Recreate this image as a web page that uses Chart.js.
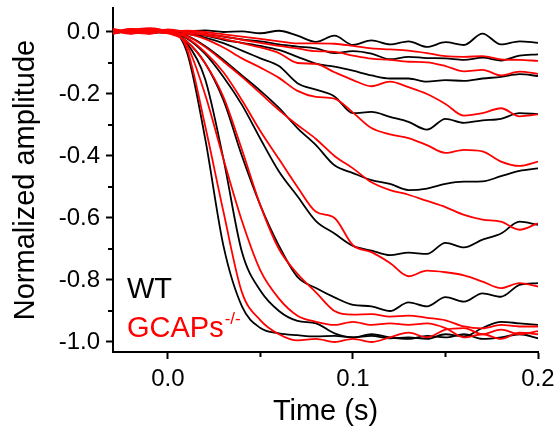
<!DOCTYPE html>
<html>
<head>
<meta charset="utf-8">
<script src="https://cdn.jsdelivr.net/npm/chart.js@4.4.1/dist/chart.umd.min.js"></script>
<style>
  html, body { margin: 0; padding: 0; background: #fff; }
  #wrap { width: 556px; height: 429px; }
</style>
</head>
<body>
<div id="wrap"><canvas id="traceChart" width="556" height="429"></canvas></div>
<script>
// time axis (s), one sample every 10 ms
const time = [-0.03, -0.02, -0.01, 0.00, 0.01, 0.02, 0.03, 0.04, 0.05, 0.06, 0.07, 0.08,
              0.09, 0.10, 0.11, 0.12, 0.13, 0.14, 0.15, 0.16, 0.17, 0.18, 0.19, 0.20];

// WT traces (black), smallest to largest flash
const wt1 = [0.004, -0.002, 0.005, 0.000, 0.002, 0.005, 0.000, 0.002, -0.004, 0.004, -0.012, -0.032,
             -0.012, -0.042, -0.027, -0.040, -0.030, -0.048, -0.033, -0.042, -0.005, -0.040, -0.030, -0.035];
const wt2 = [0.000, 0.006, -0.003, 0.002, -0.002, -0.006, -0.015, -0.024, -0.030, -0.040, -0.047, -0.053,
             -0.068, -0.062, -0.070, -0.088, -0.080, -0.084, -0.085, -0.090, -0.083, -0.092, -0.076, -0.072];
const wt3 = [-0.004, 0.002, 0.004, -0.002, -0.006, -0.012, -0.025, -0.035, -0.045, -0.058, -0.080, -0.102,
             -0.112, -0.125, -0.140, -0.150, -0.150, -0.160, -0.155, -0.158, -0.150, -0.145, -0.136, -0.142];
const wt4 = [0.006, 0.000, -0.004, 0.003, -0.006, -0.018, -0.036, -0.060, -0.085, -0.110, -0.165, -0.186,
             -0.208, -0.262, -0.258, -0.274, -0.290, -0.315, -0.280, -0.293, -0.285, -0.280, -0.262, -0.265];
const wt5 = [-0.002, 0.004, 0.000, -0.003, -0.012, -0.045, -0.090, -0.140, -0.190, -0.245, -0.310, -0.365,
             -0.430, -0.455, -0.478, -0.490, -0.510, -0.505, -0.490, -0.483, -0.482, -0.465, -0.448, -0.440];
const wt6 = [0.003, -0.003, 0.004, 0.000, -0.020, -0.070, -0.145, -0.235, -0.345, -0.450, -0.530, -0.610,
             -0.650, -0.690, -0.705, -0.720, -0.712, -0.716, -0.680, -0.695, -0.670, -0.650, -0.612, -0.622];
const wt7 = [-0.003, 0.002, -0.002, 0.002, -0.030, -0.100, -0.220, -0.400, -0.560, -0.690, -0.790, -0.826,
             -0.856, -0.880, -0.885, -0.900, -0.872, -0.885, -0.855, -0.870, -0.843, -0.854, -0.816, -0.810];
const wt8 = [0.004, -0.002, 0.003, -0.002, -0.035, -0.150, -0.410, -0.710, -0.835, -0.900, -0.932, -0.940,
             -0.972, -0.985, -0.980, -0.988, -0.985, -0.990, -0.975, -0.982, -0.955, -0.935, -0.940, -0.945];
const wt9 = [-0.002, 0.003, 0.000, 0.002, -0.060, -0.340, -0.690, -0.885, -0.955, -0.972, -0.978, -0.982,
             -0.980, -0.985, -0.975, -0.985, -0.990, -0.980, -0.985, -0.975, -0.990, -0.985, -0.975, -0.988];

// GCAPs-/- traces (red)
const ko1 = [0.008, -0.004, 0.010, 0.000, 0.004, 0.000, -0.008, -0.015, -0.022, -0.030, -0.037, -0.037,
             -0.038, -0.045, -0.053, -0.056, -0.060, -0.068, -0.078, -0.080, -0.078, -0.088, -0.090, -0.093];
const ko2 = [-0.006, 0.008, -0.004, 0.006, -0.002, -0.006, -0.014, -0.025, -0.035, -0.045, -0.053, -0.062,
             -0.064, -0.076, -0.086, -0.090, -0.096, -0.098, -0.110, -0.127, -0.122, -0.140, -0.128, -0.135];
const ko3 = [0.010, 0.000, -0.006, 0.008, 0.000, -0.010, -0.022, -0.036, -0.050, -0.068, -0.100, -0.103,
             -0.130, -0.155, -0.175, -0.160, -0.178, -0.200, -0.232, -0.270, -0.262, -0.246, -0.272, -0.266];
const ko4 = [-0.004, 0.010, 0.002, -0.004, -0.006, -0.022, -0.050, -0.085, -0.115, -0.148, -0.190, -0.209,
             -0.215, -0.260, -0.310, -0.330, -0.342, -0.365, -0.390, -0.380, -0.385, -0.418, -0.432, -0.418];
const ko5 = [0.006, -0.006, 0.008, 0.002, -0.012, -0.048, -0.095, -0.145, -0.198, -0.252, -0.300, -0.345,
             -0.400, -0.440, -0.485, -0.510, -0.525, -0.545, -0.565, -0.590, -0.605, -0.612, -0.638, -0.617];
const ko6 = [-0.002, 0.010, -0.004, 0.004, -0.018, -0.065, -0.130, -0.220, -0.320, -0.410, -0.500, -0.580,
             -0.600, -0.688, -0.710, -0.745, -0.788, -0.770, -0.775, -0.785, -0.805, -0.826, -0.810, -0.821];
const ko7 = [0.008, 0.000, 0.010, -0.004, -0.030, -0.100, -0.210, -0.380, -0.560, -0.700, -0.780, -0.840,
             -0.900, -0.912, -0.910, -0.918, -0.915, -0.922, -0.930, -0.950, -0.956, -0.945, -0.950, -0.950];
const ko8 = [-0.006, 0.006, 0.012, 0.000, -0.040, -0.200, -0.410, -0.610, -0.770, -0.860, -0.915, -0.935,
             -0.945, -0.935, -0.945, -0.940, -0.945, -0.940, -0.955, -0.985, -0.975, -0.990, -0.970, -0.975];
const ko9 = [0.010, -0.004, 0.006, 0.004, -0.050, -0.300, -0.580, -0.840, -0.930, -0.975, -0.995, -0.990,
             -1.000, -0.990, -1.000, -0.985, -0.970, -0.985, -0.960, -0.955, -0.975, -0.960, -0.975, -0.965];

const wtTraces = [wt1, wt2, wt3, wt4, wt5, wt6, wt7, wt8, wt9];
const koTraces = [ko1, ko2, ko3, ko4, ko5, ko6, ko7, ko8, ko9];

const xMajorTicks = [0, 0.1, 0.2];
const xMinorTicks = [0.05, 0.15];
const yMajorTicks = [0, -0.2, -0.4, -0.6, -0.8, -1.0];
const yMinorTicks = [-0.1, -0.3, -0.5, -0.7, -0.9];

const FONT = '"Liberation Sans", Arial, sans-serif';
Chart.defaults.font.family = FONT;
Chart.defaults.color = '#000';

function toPoints(trace) {
    return time.map((t, i) => ({ x: t, y: trace[i] }));
}

// red first so they sit on top of the black ones
const datasets = [
    ...koTraces.map(tr => ({ data: toPoints(tr), borderColor: '#ff0000' })),
    ...wtTraces.map(tr => ({ data: toPoints(tr), borderColor: '#000000' }))
];

// short minor ticks, Chart.js draws the major ones
const minorTicks = {
    id: 'minorTicks',
    afterDraw(chart) {
        const { ctx, scales: { x, y } } = chart;
        ctx.save();
        ctx.strokeStyle = '#000';
        ctx.lineWidth = 2;
        xMinorTicks.forEach(v => {
            const px = x.getPixelForValue(v);
            ctx.beginPath();
            ctx.moveTo(px, x.top);
            ctx.lineTo(px, x.top + 5);
            ctx.stroke();
        });
        yMinorTicks.forEach(v => {
            const py = y.getPixelForValue(v);
            ctx.beginPath();
            ctx.moveTo(y.right, py);
            ctx.lineTo(y.right - 5, py);
            ctx.stroke();
        });
        ctx.restore();
    }
};

// in-plot labels for the two genotypes
const genotypeLabels = {
    id: 'genotypeLabels',
    afterDraw(chart) {
        const ctx = chart.ctx;
        ctx.save();
        ctx.textBaseline = 'alphabetic';
        ctx.textAlign = 'left';
        ctx.font = '29px ' + FONT;
        ctx.fillStyle = '#000';
        ctx.fillText('WT', 127, 298);
        ctx.fillStyle = '#ff0000';
        ctx.fillText('GCAPs', 127, 337);
        const w = ctx.measureText('GCAPs').width;
        ctx.font = '17px ' + FONT;
        ctx.fillText('-/-', 127 + w + 1, 324);
        ctx.restore();
    }
};

const ctx = document.getElementById('traceChart').getContext('2d');
const traceChart = new Chart(ctx, {
    type: 'line',
    data: { datasets: datasets },
    options: {
        responsive: false,
        animation: false,
        devicePixelRatio: 1,
        layout: { padding: { left: 0, right: 18, top: 8, bottom: 0 } },
        elements: {
            point: { radius: 0 },
            line: { borderWidth: 1.8, cubicInterpolationMode: 'monotone' }
        },
        plugins: {
            legend: { display: false },
            tooltip: { enabled: false }
        },
        scales: {
            x: {
                type: 'linear',
                min: -0.0297,
                max: 0.2,
                afterBuildTicks: s => { s.ticks = xMajorTicks.map(v => ({ value: v })); },
                afterFit: s => {
                    s.height = 77;
                    s.paddingLeft = 0;
                    s.paddingRight = 0;
                },
                ticks: {
                    callback: v => v.toFixed(1),
                    font: { size: 24 },
                    color: '#000',
                    padding: 6,
                    maxRotation: 0
                },
                grid: { display: true, drawOnChartArea: false, drawTicks: true, tickLength: 7, tickWidth: 2, tickColor: '#000' },
                border: { display: true, color: '#000', width: 2 },
                title: { display: true, text: 'Time (s)', font: { size: 29 }, color: '#000', padding: { top: 0, bottom: 0 } }
            },
            y: {
                type: 'linear',
                min: -1.0323,
                max: 0.0774,
                afterBuildTicks: s => { s.ticks = yMajorTicks.map(v => ({ value: v })); },
                afterFit: s => {
                    s.width = 113;
                    s.paddingTop = 0;
                    s.paddingBottom = 0;
                },
                ticks: {
                    callback: v => v.toFixed(1),
                    font: { size: 24 },
                    color: '#000',
                    padding: 6
                },
                grid: { display: true, drawOnChartArea: false, drawTicks: true, tickLength: 7, tickWidth: 2, tickColor: '#000' },
                border: { display: true, color: '#000', width: 2 },
                title: { display: true, text: 'Normalized amplitude', font: { size: 29 }, color: '#000', padding: { top: 9, bottom: 0 } }
            }
        }
    },
    plugins: [minorTicks, genotypeLabels]
});
</script>
</body>
</html>
